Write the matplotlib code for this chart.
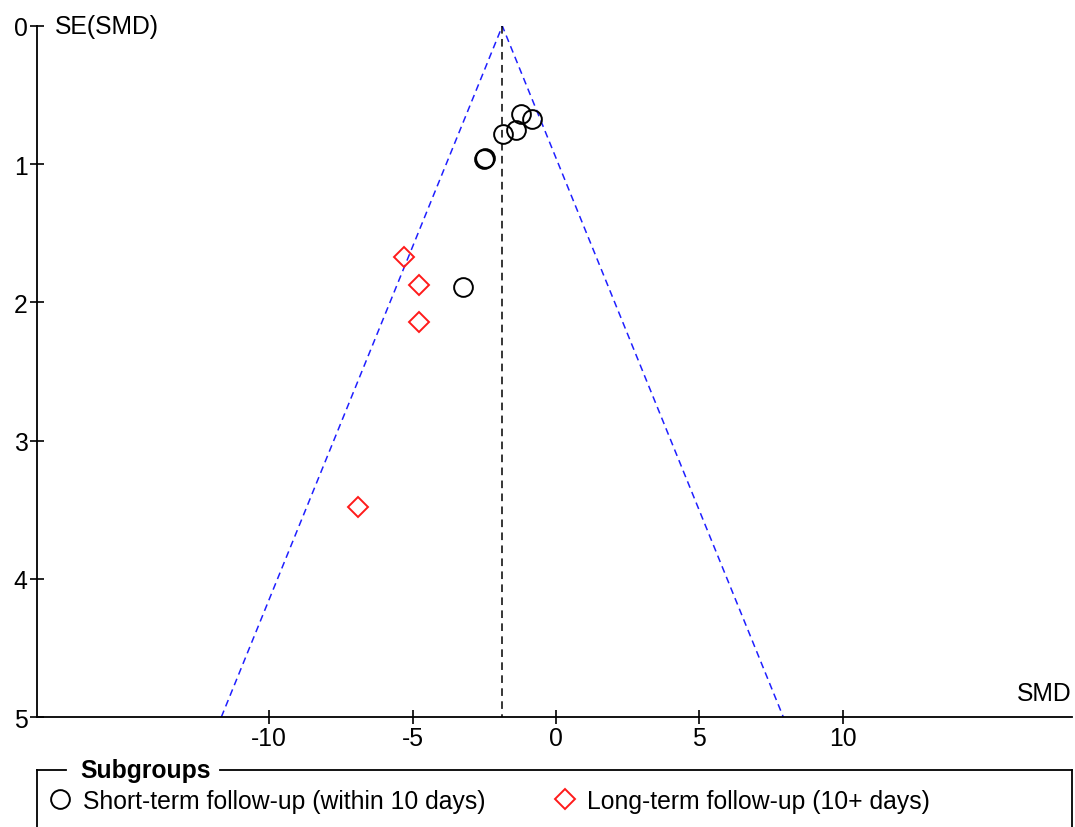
import matplotlib
matplotlib.use("Agg")
import matplotlib.pyplot as plt
from matplotlib.lines import Line2D

plt.rcParams['font.family'] = ['Liberation Sans', 'DejaVu Sans']
plt.rcParams['axes.unicode_minus'] = False

# funnel plot data (SMD, SE(SMD))
short_smd = [-1.23, -0.82, -1.38, -1.84, -2.46, -2.52, -3.25]
short_se = [0.64, 0.675, 0.753, 0.779, 0.954, 0.959, 1.89]
long_smd = [-5.29, -4.78, -4.76, -6.91]
long_se = [1.668, 1.876, 2.139, 3.48]

pooled = -1.87
se_max = 5
x_ticks = [-10, -5, 0, 5, 10]
y_ticks = [0, 1, 2, 3, 4, 5]

fs = 17.8

fig = plt.figure(figsize=(10.75, 8.28), dpi=100)
ax = fig.add_axes([37 / 1075, 110 / 828, 1035 / 1075, 691 / 828])

# pseudo 95% confidence limits
ax.plot([pooled - 1.96 * se_max, pooled, pooled + 1.96 * se_max], [se_max, 0, se_max],
        color='#1f1fff', ls=(0, (4.5, 3)), lw=1.1)
ax.plot([pooled, pooled], [0, se_max], color='black', ls=(0, (5, 3.5)), lw=1.1)

h1, = ax.plot(short_smd, short_se, 'o', ms=13.5, mfc='none', mec='black', mew=1.4,
              label='Short-term follow-up (within 10 days)')
h2, = ax.plot(long_smd, long_se, 'D', ms=10.5, mfc='none', mec='#ff1a1a', mew=1.4,
              label='Long-term follow-up (10+ days)')

ax.set_xlim(-18.1, 18.0)
ax.set_ylim(5, 0)
ax.set_xticks(x_ticks)
ax.set_yticks(y_ticks)
ax.spines['top'].set_visible(False)
ax.spines['right'].set_visible(False)
for s in ['left', 'bottom']:
    ax.spines[s].set_linewidth(1.3)
ax.tick_params(direction='inout', length=9.5, width=1.2, pad=2, labelsize=fs)
ax.patch.set_alpha(0)

ax.annotate('SE(SMD)', xy=(0, 1), xycoords='axes fraction', xytext=(13, 0),
            textcoords='offset points', ha='left', va='center', fontsize=fs)
ax.annotate('SMD', xy=(1, 0), xycoords='axes fraction', xytext=(0, 17),
            textcoords='offset points', ha='right', va='center', fontsize=fs)

# subgroup box, open at the bottom edge of the figure
box_top = 1 - 771 / 828
left, right = 37 / 1075, 1072 / 1075
lw = 1.3
fig.add_artist(Line2D([left, left], [box_top, -0.01], color='black', lw=lw))
fig.add_artist(Line2D([right, right], [box_top, -0.01], color='black', lw=lw))
fig.add_artist(Line2D([left, 66 / 1075], [box_top, box_top], color='black', lw=lw))
fig.add_artist(Line2D([220 / 1075, right], [box_top, box_top], color='black', lw=lw))
fig.text(80 / 1075, box_top, 'Subgroups', fontsize=fs, fontweight='bold', ha='left', va='center')

fig.legend(handles=[h1, h2], loc='center left', bbox_to_anchor=(48 / 1075, 1 - 802 / 828),
           ncol=2, frameon=False, fontsize=fs, handlelength=1.0, handletextpad=0.42,
           columnspacing=2.7, borderaxespad=0, borderpad=0)

fig.savefig('out.png', dpi=100)
